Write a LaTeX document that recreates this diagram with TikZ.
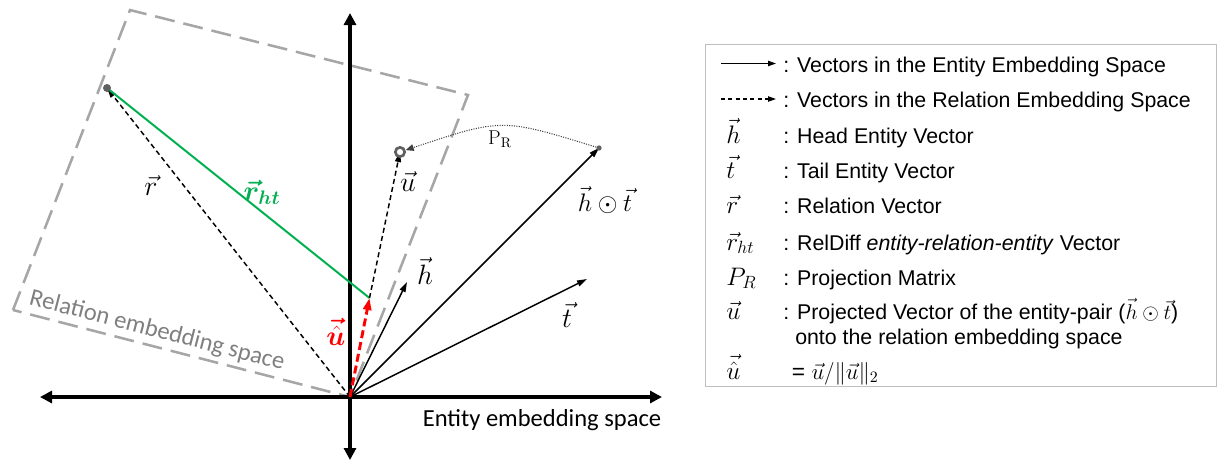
\RequirePackage{fix-cm}
\documentclass[tikz,border=0pt]{standalone}
\usepackage{amsmath,bm}
\usepackage{fontspec}
\newfontfamily\legfont{Liberation Sans}
\newfontfamily\calfont{Carlito}
\usetikzlibrary{arrows.meta}
\definecolor{relgray}{HTML}{A6A6A6}
\definecolor{txtgray}{HTML}{7F7F7F}
\definecolor{rgreen}{HTML}{00B050}
\definecolor{boxgray}{HTML}{BFBFBF}
\definecolor{dotgray}{HTML}{606060}
\definecolor{arcgray}{HTML}{404040}
\begin{document}
\begin{tikzpicture}[x=0.75pt,y=-0.75pt,
  axisline/.style={line width=3pt,{Triangle[length=9pt,width=9pt]}-{Triangle[length=9pt,width=9pt]}},
  entvec/.style={line width=1.1pt,-{Triangle[length=7.5pt,width=4.5pt]}},
  relvec/.style={line width=1.1pt,dash pattern=on 3.75pt off 2.5pt,-{Triangle[length=7.5pt,width=4.5pt]}},
  uhatvec/.style={red,line width=2.2pt,dash pattern=on 6pt off 3pt,-{Triangle[length=9pt,width=6pt]}},
  relbox/.style={relgray,line width=1.9pt,dash pattern=on 15pt off 6.75pt},
  lbl/.style={inner sep=0pt,font=\fontsize{21}{25}\selectfont},
  bigtxt/.style={inner sep=0pt,font=\calfont\fontsize{18.4}{22}\selectfont},
  legtxt/.style={inner sep=0pt,anchor=base west,font=\legfont\fontsize{16}{19}\selectfont},
  legsym/.style={inner sep=0pt,anchor=base west,font=\fontsize{19}{22}\selectfont},
  legarrow/.style={line width=0.9pt,-{Triangle[length=6pt,width=4pt]}},
]
\useasboundingbox (0,0) rectangle (1225,462);
% coordinates
\coordinate (O) at (350,397);
\coordinate (xl) at (40,397);
\coordinate (xr) at (662,397);
\coordinate (yt) at (350,13);
\coordinate (yb) at (350,460);
\coordinate (c1) at (130,10);
\coordinate (c2) at (468,95);
\coordinate (c3) at (13,310);
\coordinate (R) at (107,88);
\coordinate (U) at (400,152);
\coordinate (UH) at (369.5,298);
\coordinate (H) at (407,282);
\coordinate (HT) at (599,148);
\coordinate (T) at (587,279);
% relation embedding space
\draw[relbox] (c3) -- (c1) -- (c2) -- (O) -- cycle;
\node[bigtxt,text=txtgray,rotate=-14.5] (reltxt) at (157,331) {Relation embedding space};
% axes
\draw[axisline] (xl) -- (xr);
\draw[axisline] (yb) -- (yt);
\node[bigtxt,anchor=base] (enttxt) at (542,426) {Entity embedding space};
% vectors
\draw[relvec] (O) -- (R);
\draw[rgreen,line width=1.5pt] (R) -- (UH);
\draw[relvec] (UH) -- (U);
\draw[entvec] (O) -- (H);
\draw[entvec] (O) -- (HT);
\draw[entvec] (O) -- (T);
\draw[uhatvec] (O) -- (UH);
% dots
\node[circle,fill=dotgray,inner sep=0pt,minimum size=6pt] (dR) at (R) {};
\node[circle,draw=dotgray,fill=white,line width=2pt,inner sep=0pt,minimum size=7pt] (dU) at (U) {};
\node[circle,fill=dotgray,inner sep=0pt,minimum size=4pt] (dHT) at (HT) {};
% projection arc
\draw[arcgray,line width=0.8pt,dash pattern=on 0.8pt off 1pt,-{Triangle[length=6pt,width=5pt]}] (dHT) .. controls (502,118) .. (dU);
\node[lbl,fill=white,inner sep=1pt,font=\fontsize{15}{18}\selectfont] (pr) at (500,139) {$\mathrm{P}_{\mathrm{R}}$};
% labels
\node[lbl] (lr) at (151,186) {$\vec{r}$};
\node[lbl,text=rgreen] (lrht) at (262,192) {$\bm{\vec{r}_{ht}}$};
\node[lbl] (lu) at (408,182) {$\vec{u}$};
\node[lbl] (lh) at (425,271) {$\vec{h}$};
\node[lbl,font=\fontsize{19}{22}\selectfont] (lht) at (605,200) {$\vec{h}\odot\vec{t}$};
\node[lbl] (lt) at (567,315) {$\vec{t}$};
\node[lbl,text=red] (luh) at (336,332) {$\bm{\vec{\hat{u}}}$};
% legend
\node[draw=boxgray,line width=1.1pt,minimum width=511*0.75pt,minimum height=342*0.75pt,anchor=north west,inner sep=0pt] (legbox) at (705,44) {};
\coordinate (a1s) at (721,63.5);
\coordinate (a1e) at (776,63.5);
\coordinate (a2s) at (721,99);
\coordinate (a2e) at (776,99);
\draw[legarrow] (a1s) -- (a1e);
\draw[legarrow,dash pattern=on 3pt off 2.5pt] (a2s) -- (a2e);
\node[legtxt] (t1) at (783,72.3) {: Vectors in the Entity Embedding Space};
\node[legtxt] (t2) at (783,107) {: Vectors in the Relation Embedding Space};
\node[legsym] (s3) at (726,143.3) {$\vec{h}$};
\node[legtxt] (t3) at (783,143.3) {: Head Entity Vector};
\node[legsym] (s4) at (726,178.3) {$\vec{t}$};
\node[legtxt] (t4) at (783,178.3) {: Tail Entity Vector};
\node[legsym] (s5) at (726,213.3) {$\vec{r}$};
\node[legtxt] (t5) at (783,213.3) {: Relation Vector};
\node[legsym] (s6) at (726,250) {$\vec{r}_{ht}$};
\node[legtxt] (t6) at (783,250) {: RelDiff \textit{entity-relation-entity} Vector};
\node[legsym] (s7) at (726,285) {$P_R$};
\node[legtxt] (t7) at (783,285) {: Projection Matrix};
\node[legsym] (s8) at (726,319.3) {$\vec{u}$};
\node[legtxt] (t8) at (783,319.3) {: Projected Vector of the entity-pair ($\vec{h}\odot\vec{t}$)};
\node[legtxt] (t8b) at (795,344) {onto the relation embedding space};
\node[legsym] (s9) at (726,379) {$\vec{\hat{u}}$};
\node[legtxt,font=\legfont\fontsize{16}{19}\selectfont\fontsize{17}{20}\selectfont] (t9) at (791.7,379) {= $\vec{u}/\|\vec{u}\|_2$};
\end{tikzpicture}
\end{document}
